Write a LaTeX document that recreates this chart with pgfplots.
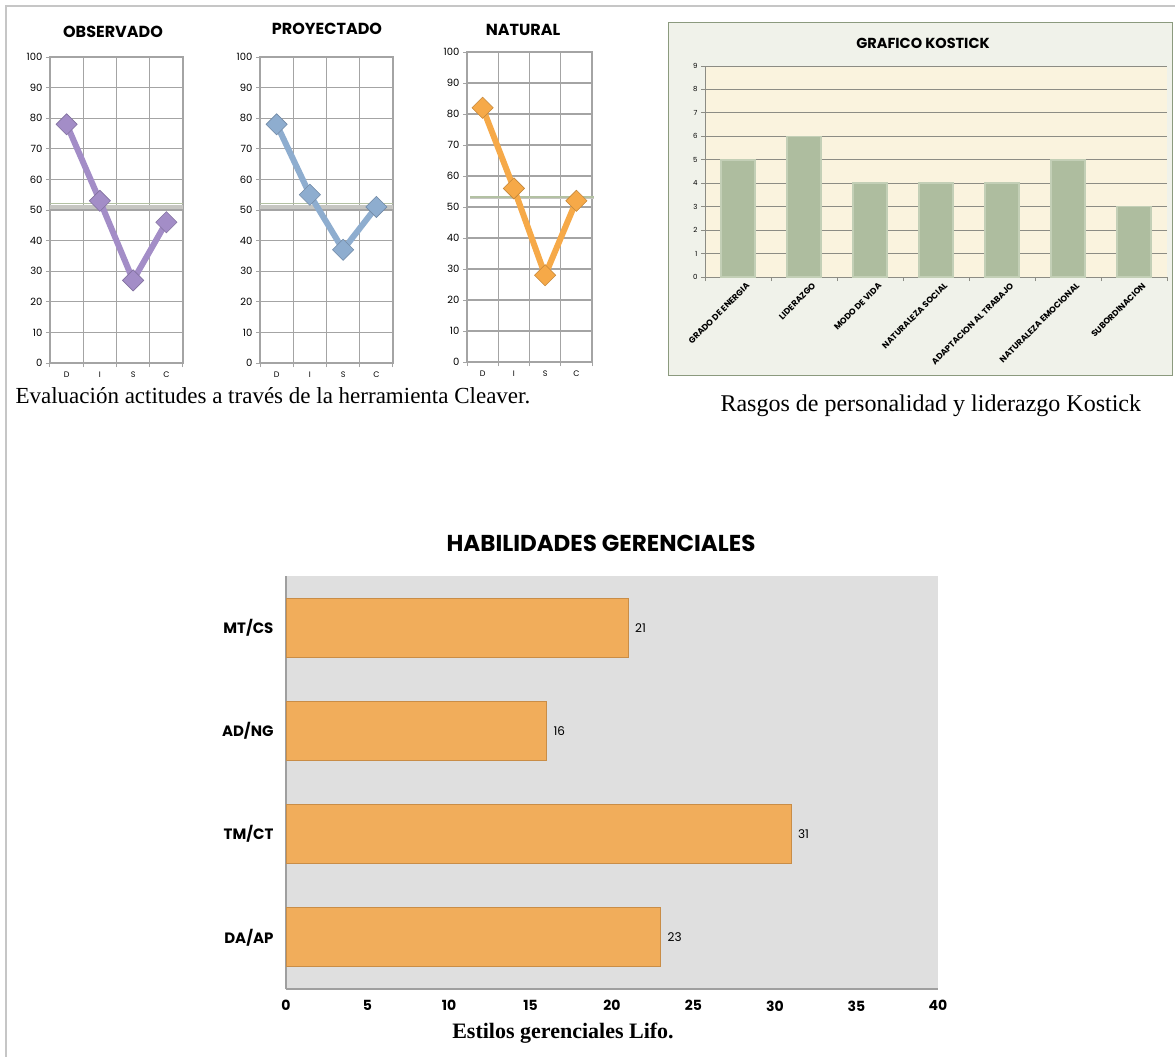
\documentclass[border=0pt]{standalone}
\usepackage{fontspec}
\usepackage{pgfplots}
\pgfplotsset{compat=1.18}
\setmainfont{Liberation Serif}
\newfontfamily\gothic{Poppins}
\definecolor{gridg}{HTML}{A4A4A4}
\definecolor{purp}{HTML}{A38DC7}
\definecolor{blu}{HTML}{8EADCF}
\definecolor{ora}{HTML}{F6A948}
\definecolor{band}{HTML}{C6C6C2}
\definecolor{bandg}{HTML}{B3C1A3}
\definecolor{kframe}{HTML}{8B9A7E}
\definecolor{kbg}{HTML}{F0F2EA}
\definecolor{kplot}{HTML}{FAF3DE}
\definecolor{kbar}{HTML}{AEBD9F}
\definecolor{kbard}{HTML}{C3CFB6}
\definecolor{kgrid}{HTML}{8C8C84}
\definecolor{hbg}{HTML}{DFDFDF}
\definecolor{hbar}{HTML}{F1AD5B}
\definecolor{hbard}{HTML}{C98D47}
\pgfplotsset{
 /pgf/number format/assume math mode=true,
 disc/.style={
  scale only axis, width=133pt, height=306pt,
  xmin=0.5, xmax=4.5, ymin=0, ymax=100,
  xtick={0.5,1.5,2.5,3.5,4.5}, xticklabels={},
  extra x ticks={1,2,3,4}, extra x tick labels={D,I,S,C},
  extra x tick style={major tick length=0pt, grid=none,
    xticklabel style={font=\gothic\fontsize{8}{9}\selectfont, yshift=-5pt}},
  ytick={0,10,...,100},
  grid=major, major grid style={gridg, line width=1.3pt},
  axis line style={gridg, line width=1.3pt},
  tick style={gridg, line width=1pt}, tick align=outside, major tick length=4pt,
  xtick pos=bottom, ytick pos=left,
  yticklabel style={font=\gothic\fontsize{10}{12}\selectfont},
  clip=false,
 },
 discline/.style={line width=6pt, mark=square*, mark size=7.5pt,
   mark options={rotate=45, fill=#1, draw=#1!80!black, line width=0.6pt}, draw=#1},
}
\begin{document}
\begin{tikzpicture}[x=1pt,y=1pt]
\path[use as bounding box, fill=white] (0,0) rectangle (1175,-1057);
\draw[gray!45, line width=2pt] (6,-1057) -- (6,-6) -- (1175,-6);

% ---------- OBSERVADO
\node[font=\gothic\bfseries\fontsize{16}{18}\selectfont] at (113,-32) {OBSERVADO};
\begin{axis}[disc, at={(50pt,-363pt)}, anchor=south west]
\addplot[band, line width=4.5pt, forget plot] coordinates {(0.5,51) (4.5,51)};
\addplot[bandg, line width=1pt, forget plot] coordinates {(0.5,52.2) (4.5,52.2)};
\addplot[discline=purp] coordinates {(1,78) (2,53) (3,27) (4,46)};
\end{axis}

% ---------- PROYECTADO
\node[font=\gothic\bfseries\fontsize{16}{18}\selectfont] at (327,-29) {PROYECTADO};
\begin{axis}[disc, at={(260pt,-363pt)}, anchor=south west]
\addplot[band, line width=4.5pt, forget plot] coordinates {(0.5,51) (4.5,51)};
\addplot[bandg, line width=1pt, forget plot] coordinates {(0.5,52.2) (4.5,52.2)};
\addplot[discline=blu] coordinates {(1,78) (2,55) (3,37) (4,51)};
\end{axis}

% ---------- NATURAL
\node[font=\gothic\bfseries\fontsize{16}{18}\selectfont] at (523,-30) {NATURAL};
\begin{axis}[disc, width=125pt, height=310pt, at={(467pt,-362pt)}, anchor=south west]
\addplot[band, line width=3pt, forget plot] coordinates {(0.6,53) (4.55,53)};
\addplot[bandg, line width=1.5pt, forget plot] coordinates {(0.6,53.3) (4.55,53.3)};
\addplot[discline=ora] coordinates {(1,82) (2,56) (3,28) (4,52)};
\end{axis}

\node[anchor=base west, font=\fontsize{23}{26}\selectfont] at (12,-403) {Evaluación actitudes a través de la herramienta Cleaver.};

% ---------- KOSTICK
\draw[kframe, fill=kbg, line width=1pt] (668,-23) rectangle (1172,-375);
\node[font=\gothic\bfseries\fontsize{14.5}{16}\selectfont] at (923,-43) {GRAFICO KOSTICK};
\begin{axis}[at={(705pt,-277pt)}, anchor=south west, scale only axis, width=462pt, height=211pt,
 ybar, bar width=34pt, xmin=-0.5, xmax=6.5, ymin=0, ymax=9,
 axis background/.style={fill=kplot},
 ytick={0,...,9}, ymajorgrids, major grid style={kgrid, line width=0.8pt},
 xtick={-0.5,0.5,...,6.5}, xticklabels={},
 extra x ticks={0,1,2,3,4,5,6},
 extra x tick labels={GRADO DE ENERGIA,LIDERAZGO,MODO DE VIDA,NATURALEZA SOCIAL,ADAPTACION AL TRABAJO,NATURALEZA EMOCIONAL,SUBORDINACION},
 extra x tick style={major tick length=0pt, grid=none,
   xticklabel style={rotate=45, anchor=north east, inner sep=1pt, yshift=-8pt, xshift=3pt,
   font=\gothic\bfseries\fontsize{8.5}{9}\selectfont}},
 axis x line*=bottom, axis y line*=left, axis line style={-, kgrid, line width=0.8pt},
 tick style={kgrid, line width=0.8pt}, tick align=outside, major tick length=4pt,
 yticklabel style={font=\gothic\fontsize{7}{8}\selectfont},
]
\addplot[fill=kbar, draw=kbard, line width=1.5pt] coordinates {(0,5) (1,6) (2,4) (3,4) (4,4) (5,5) (6,3)};
\end{axis}
\node[anchor=base west, font=\fontsize{24}{27}\selectfont] at (717,-411) {Rasgos de personalidad y liderazgo Kostick};

% ---------- HABILIDADES GERENCIALES
\node[font=\gothic\bfseries\fontsize{23}{25}\selectfont] at (601,-543) {HABILIDADES GERENCIALES};
\begin{axis}[at={(286pt,-989pt)}, anchor=south west, scale only axis, width=652pt, height=413pt,
 xbar, bar width=59pt, xmin=0, xmax=40, ymin=-0.5, ymax=3.5,
 axis background/.style={fill=hbg},
 xtick={0,5,...,40}, ytick={0,1,2,3}, yticklabels={DA/AP,TM/CT,AD/NG,MT/CS},
 major tick length=0pt,
 axis x line*=bottom, axis y line*=left, axis line style={-, draw=gray!75, line width=1.2pt},
 xticklabel style={font=\gothic\bfseries\fontsize{14}{16}\selectfont, yshift=-8pt},
 yticklabel style={font=\gothic\bfseries\fontsize{15}{17}\selectfont, xshift=-9pt},
 nodes near coords, nodes near coords style={font=\gothic\fontsize{12}{14}\selectfont, xshift=3pt},
]
\addplot[fill=hbar, draw=hbard, line width=1pt] coordinates {(23,0) (31,1) (16,2) (21,3)};
\end{axis}
\node[font=\bfseries\fontsize{22}{24}\selectfont] at (563,-1033) {Estilos gerenciales Lifo.};
\end{tikzpicture}
\end{document}
